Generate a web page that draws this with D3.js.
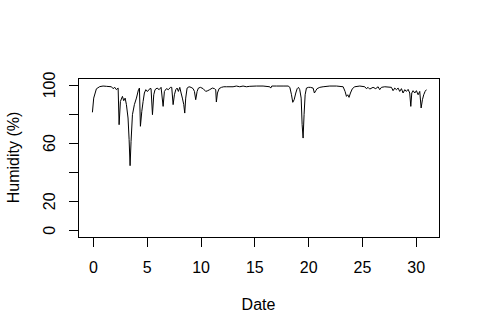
<!DOCTYPE html>
<html>
<head>
<meta charset="utf-8">
<script src="https://cdn.jsdelivr.net/npm/d3@7"></script>
<style>
  html, body { margin: 0; padding: 0; background: #fff; }
  svg { display: block; }
  text { font-family: "Liberation Sans", Arial, sans-serif; font-size: 16px; fill: #000; }
</style>
</head>
<body>
<svg id="chart" width="480" height="335"></svg>
<script>
// Day of month (x) and humidity in % (y)
const dates = [0,0.12,0.37,0.68,0.99,1.30,1.77,1.92,2.08,2.23,2.39,2.48,2.60,2.79,2.91,3.04,3.16,3.31,3.41,3.50,3.59,3.72,3.90,4.09,4.28,4.37,4.46,4.59,4.71,4.83,4.96,5.08,5.20,5.33,5.45,5.58,5.70,5.82,6.01,6.20,6.38,6.57,6.69,6.88,7.06,7.25,7.37,7.50,7.62,7.75,7.87,7.99,8.12,8.24,8.36,8.49,8.58,8.67,8.80,8.98,9.17,9.36,9.48,9.60,9.73,9.85,10.04,10.29,10.53,10.72,10.90,11.15,11.34,11.46,11.52,11.62,11.77,11.99,12.21,12.45,13.07,13.38,13.69,14.00,14.31,14.62,15.24,15.86,16.48,16.57,16.67,17.10,17.72,18.19,18.35,18.50,18.62,18.75,18.90,19.03,19.15,19.27,19.40,19.49,19.58,19.67,19.77,19.89,20.08,20.26,20.51,20.63,20.76,20.88,21.13,21.44,22.06,22.68,23.30,23.48,23.61,23.73,23.85,23.98,24.16,24.38,24.85,25.31,25.46,25.62,25.77,26.08,26.33,26.55,26.70,26.86,27.17,27.79,27.94,28.10,28.25,28.41,28.56,28.72,28.87,29.03,29.18,29.34,29.49,29.59,29.68,29.80,29.96,30.11,30.27,30.42,30.55,30.67,30.79,30.92,31.04];
const humidity = [80.5,90.3,96.7,98.2,98.6,98.4,98.1,96.8,97.7,96.1,97.2,72.0,88.0,91.5,88.5,90.3,85.8,76.6,61.7,43.8,60.5,78.9,85.8,90.3,96.1,97.2,70.9,81.2,88.0,93.8,96.1,94.9,95.4,96.8,96.8,78.9,92.6,96.1,97.2,96.1,97.7,84.6,94.9,96.8,96.1,97.7,97.7,85.8,92.6,96.1,97.2,94.9,97.7,93.8,90.3,85.8,80.0,90.3,97.2,98.1,97.7,96.8,94.9,89.2,94.9,97.2,97.7,96.8,94.9,95.4,96.1,97.2,96.8,96.1,87.6,93.8,96.8,97.7,98.1,98.1,98.1,98.6,98.1,98.6,98.1,98.4,98.6,98.6,98.1,97.2,98.6,98.6,98.6,98.6,97.7,92.6,87.4,89.2,93.8,96.8,97.7,96.1,90.3,72.0,62.8,78.9,92.6,97.2,97.7,97.7,97.2,93.8,95.4,96.8,97.7,98.1,98.6,98.6,98.1,94.9,91.5,92.6,90.8,93.8,96.8,98.1,98.6,98.1,96.8,97.7,96.5,97.7,96.8,98.1,96.1,97.7,98.1,97.7,95.4,97.2,96.1,97.2,94.9,96.8,93.8,96.1,94.9,96.3,93.8,84.6,93.8,95.4,93.8,95.4,92.6,94.9,83.5,89.2,92.6,94.9,96.1];

const xTicks = [0, 5, 10, 15, 20, 25, 30];
const yTicks = [0, 20, 40, 60, 80, 100];
const yTickLabels = ["0", "20", "", "60", "", "100"];
const xTitle = "Date";
const yTitle = "Humidity (%)";

// Axis limits (as in the R plot, with its padding)
const xLim = [-1.34, 32.21];
const yLim = [-5.28, 104.13];

const W = 480, H = 335;
const margin = { top: 78, right: 41, bottom: 98, left: 78 };
const svg = d3.select("#chart");

const x = d3.scaleLinear().domain(xLim).range([margin.left, W - margin.right]);
const y = d3.scaleLinear().domain(yLim).range([H - margin.bottom, margin.top]);

const data = dates.map((d, i) => ({ x: d, y: humidity[i] }));

// Line
svg.append("path")
  .datum(data)
  .attr("fill", "none")
  .attr("stroke", "#000")
  .attr("stroke-width", 1)
  .attr("d", d3.line().x(d => x(d.x)).y(d => y(d.y)));

// Box
svg.append("rect")
  .attr("x", margin.left + 0.5)
  .attr("y", margin.top + 0.5)
  .attr("width", W - margin.left - margin.right)
  .attr("height", H - margin.top - margin.bottom)
  .attr("fill", "none")
  .attr("stroke", "#000")
  .attr("stroke-width", 1)
  .attr("shape-rendering", "crispEdges");

// X axis
const xAxis = d3.axisBottom(x).tickValues(xTicks).tickSize(9.5).tickPadding(10).tickFormat(d3.format("d"));
const gx = svg.append("g")
  .attr("transform", `translate(0.5,${H - margin.bottom + 0.5})`)
  .call(xAxis);
gx.select(".domain").attr("d", `M${x(xTicks[0])},0H${x(xTicks[xTicks.length - 1])}`).attr("shape-rendering", "crispEdges");
gx.selectAll(".tick line").attr("shape-rendering", "crispEdges");
gx.selectAll("text").attr("font-size", 16).attr("font-family", "Liberation Sans, Arial, sans-serif").attr("fill", "#000")
  .attr("dy", null).attr("y", 0).attr("transform", "translate(0,35)");

// Y axis
const yAxis = d3.axisLeft(y).tickValues(yTicks).tickSize(9.5).tickFormat((d, i) => yTickLabels[i]);
const gy = svg.append("g")
  .attr("transform", `translate(${margin.left + 0.5},0.5)`)
  .call(yAxis);
gy.select(".domain").attr("d", `M0,${y(yTicks[0])}V${y(yTicks[yTicks.length - 1])}`).attr("shape-rendering", "crispEdges");
gy.selectAll(".tick line").attr("shape-rendering", "crispEdges");
gy.selectAll(".tick text")
  .attr("font-size", 16).attr("font-family", "Liberation Sans, Arial, sans-serif").attr("fill", "#000")
  .attr("x", null).attr("dy", null)
  .attr("text-anchor", "middle")
  .attr("transform", "translate(-23.5,0) rotate(-90)");

// Titles
svg.append("text")
  .attr("x", (margin.left + W - margin.right) / 2)
  .attr("y", 310)
  .attr("text-anchor", "middle")
  .text(xTitle);

const cy = (margin.top + H - margin.bottom) / 2;
svg.append("text")
  .attr("transform", `translate(18.5,${cy}) rotate(-90)`)
  .attr("text-anchor", "middle")
  .text(yTitle);
</script>
</body>
</html>
